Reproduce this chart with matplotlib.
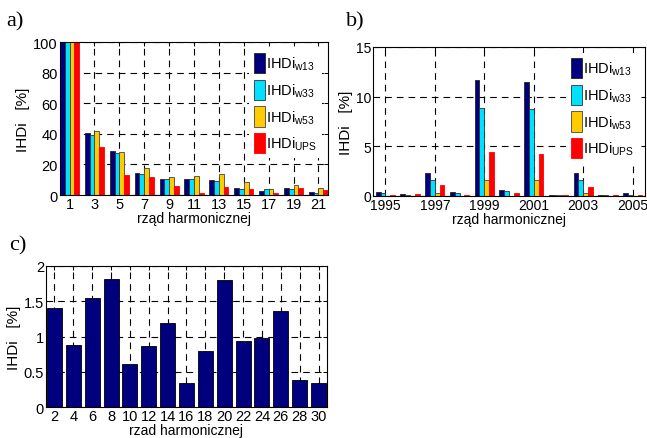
import matplotlib
matplotlib.use("Agg")
import matplotlib.pyplot as plt
import numpy as np
from matplotlib import font_manager

names = {f.name for f in font_manager.fontManager.ttflist}
sans = 'Liberation Sans Narrow' if 'Liberation Sans Narrow' in names else 'Liberation Sans'
plt.rcParams['font.family'] = [sans, 'DejaVu Sans']
plt.rcParams['mathtext.default'] = 'regular'

# --- data ---
harm_a = [1, 3, 5, 7, 9, 11, 13, 15, 17, 19, 21]
a_w13 = [100, 40.4, 29.0, 14.4, 10.5, 10.5, 9.6, 4.6, 2.8, 4.4, 1.7]
a_w33 = [100, 39.5, 27.5, 13.8, 10.3, 10.3, 9.0, 3.7, 3.7, 3.7, 1.1]
a_w53 = [100, 41.7, 28.4, 17.7, 11.6, 12.2, 13.8, 8.5, 3.9, 6.3, 4.6]
a_ups = [100, 31.4, 13.3, 11.6, 5.9, 1.1, 5.5, 3.7, 1.5, 4.6, 3.0]

harm_b = list(range(1995, 2006))
b_w13 = [0.40, 0.23, 2.35, 0.40, 11.65, 0.57, 11.50, 0.05, 2.35, 0.05, 0.33]
b_w33 = [0.30, 0.13, 1.65, 0.33, 8.90, 0.47, 8.80, 0.05, 1.65, 0.05, 0.10]
b_w53 = [0.02, 0.02, 0.33, 0.02, 1.65, 0.02, 1.58, 0.05, 0.33, 0.03, 0.02]
b_ups = [0.13, 0.23, 1.07, 0.13, 4.43, 0.27, 4.26, 0.10, 0.90, 0.10, 0.08]

harm_c = list(range(2, 31, 2))
c_val = [1.40, 0.88, 1.54, 1.81, 0.61, 0.86, 1.19, 0.34, 0.79, 1.80,
         0.93, 0.98, 1.36, 0.38, 0.34]

labels = ['IHDi$_{w13}$', 'IHDi$_{w33}$', 'IHDi$_{w53}$', 'IHDi$_{UPS}$']
colors = ['#00007f', '#00e0ff', '#ffcc00', '#ff0000']
edges = ['#222222', '#333333', '#444444', '#ff0000']

fig = plt.figure(figsize=(6.47, 4.39), dpi=100)


def style(ax, size=10.5):
    ax.set_axisbelow(True)
    ax.grid(True, color='black', linestyle=(0, (6, 4.5)), linewidth=0.8)
    ax.tick_params(direction='in', top=True, right=True, length=3,
                   width=0.7, labelsize=size, pad=1.5)
    for s in ax.spines.values():
        s.set_linewidth(0.8)


def grouped(ax, x, series, gw):
    x = np.asarray(x, dtype=float)
    w = gw / 4
    bars = []
    for i, vals in enumerate(series):
        b = ax.bar(x + (i - 1.5) * w, vals, w, color=colors[i],
                   edgecolor=edges[i], linewidth=0.6)
        bars.append(b)
    leg = ax.legend(bars, labels, loc='upper right', fontsize=10.5,
                    handlelength=0.7, handleheight=1.75, handletextpad=0.1,
                    labelspacing=0.45, borderpad=0.35, borderaxespad=0.4,
                    frameon=True, fancybox=False)
    leg.get_frame().set_edgecolor('none')
    leg.get_frame().set_facecolor('white')
    leg.get_frame().set_alpha(1)


# a)
ax = fig.add_axes([0.0927, 0.5535, 0.4143, 0.3485])
grouped(ax, harm_a, [a_w13, a_w33, a_w53, a_ups], 1.53)
ax.set_xlim(0.23, 21.77)
ax.set_ylim(0, 100)
ax.set_xticks(harm_a)
ax.set_yticks(range(0, 101, 20))
ax.set_ylabel('IHDi   [%]', fontsize=11, labelpad=2)
ax.set_xlabel('rząd harmonicznej', fontsize=10, labelpad=0)
style(ax)
fig.text(0.01, 0.95, 'a)', family='Liberation Serif', fontsize=16, va='center')

# b)
ax = fig.add_axes([0.5765, 0.5513, 0.4205, 0.3394])
grouped(ax, harm_b, [b_w13, b_w33, b_w53, b_ups], 0.78)
ax.set_xlim(1994.5, 2005.5)
ax.set_ylim(0, 15)
ax.set_xticks(harm_b[::2])
ax.set_yticks([0, 5, 10, 15])
ax.set_ylabel('IHDi   [%]', fontsize=11, labelpad=2)
ax.set_xlabel('rząd harmonicznej', fontsize=10, labelpad=0)
style(ax, 10)
fig.text(0.535, 0.95, 'b)', family='Liberation Serif', fontsize=16, va='center')

# c)
ax = fig.add_axes([0.0711, 0.0706, 0.4343, 0.3212])
ax.bar(harm_c, c_val, 1.6, color='#00007f', edgecolor='black', linewidth=0.6)
ax.set_xlim(1.1, 30.9)
ax.set_ylim(0, 2)
ax.set_xticks(harm_c)
ax.set_yticks([0, 0.5, 1, 1.5, 2])
ax.set_yticklabels(['0', '0.5', '1', '1.5', '2'])
ax.set_ylabel('IHDi   [%]', fontsize=11, labelpad=2)
ax.set_xlabel('rzad harmonicznej', fontsize=10, labelpad=0)
style(ax)
fig.text(0.014, 0.44, 'c)', family='Liberation Serif', fontsize=16, va='center')

fig.savefig('out.png', dpi=100)
